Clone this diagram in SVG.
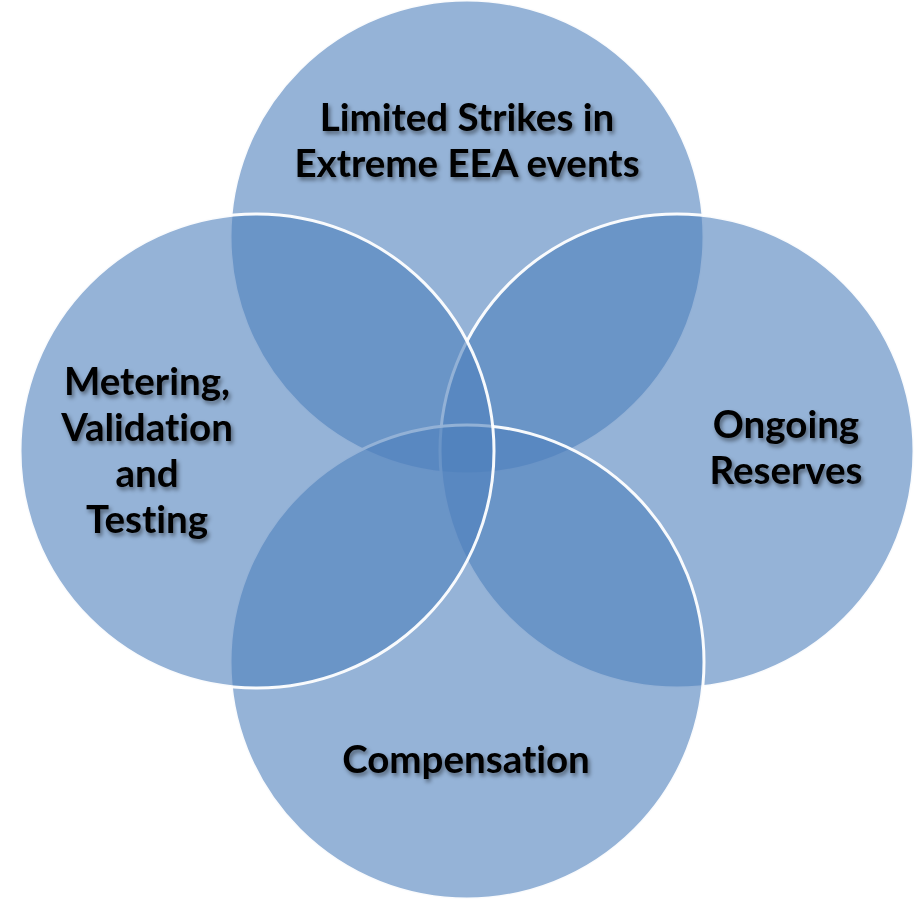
<svg xmlns="http://www.w3.org/2000/svg" width="919" height="903" viewBox="0 0 919 903">
  <defs>
    <filter id="txtShadow" x="-10%" y="-20%" width="120%" height="150%">
      <feDropShadow dx="2" dy="3" stdDeviation="2" flood-color="#000" flood-opacity="0.45"/>
    </filter>
  </defs>
  <style>
    .ring { fill: rgba(79,129,189,0.6); stroke: rgba(255,255,255,0.95); stroke-width: 3; }
    .label { font-family: Lato, "Liberation Sans", sans-serif; font-weight: 700; font-size: 38.5px; fill: #000; text-anchor: middle; font-variant-ligatures: none; font-feature-settings: "liga" 0, "clig" 0; filter: url(#txtShadow); }
  </style>
  <rect width="919" height="903" fill="#fff"/>

  <g id="top-circle">
    <circle class="ring" cx="467" cy="237" r="237"/>
    <text class="label" x="467" y="131">Limited Strikes in</text>
    <text class="label" x="467" y="177">Extreme EEA events</text>
  </g>
  <g id="right-circle">
    <circle class="ring" cx="677" cy="451" r="237"/>
    <text class="label" x="786" y="438">Ongoing</text>
    <text class="label" x="786" y="484">Reserves</text>
  </g>
  <g id="bottom-circle">
    <circle class="ring" cx="467" cy="662" r="237"/>
    <text class="label" x="466" y="773">Compensation</text>
  </g>
  <g id="left-circle">
    <circle class="ring" cx="257" cy="451" r="237"/>
    <text class="label" x="147" y="395">Metering,</text>
    <text class="label" x="147" y="441">Validation</text>
    <text class="label" x="147" y="487">and</text>
    <text class="label" x="147" y="533">Testing</text>
  </g>
  <g id="connectors"/>
</svg>
